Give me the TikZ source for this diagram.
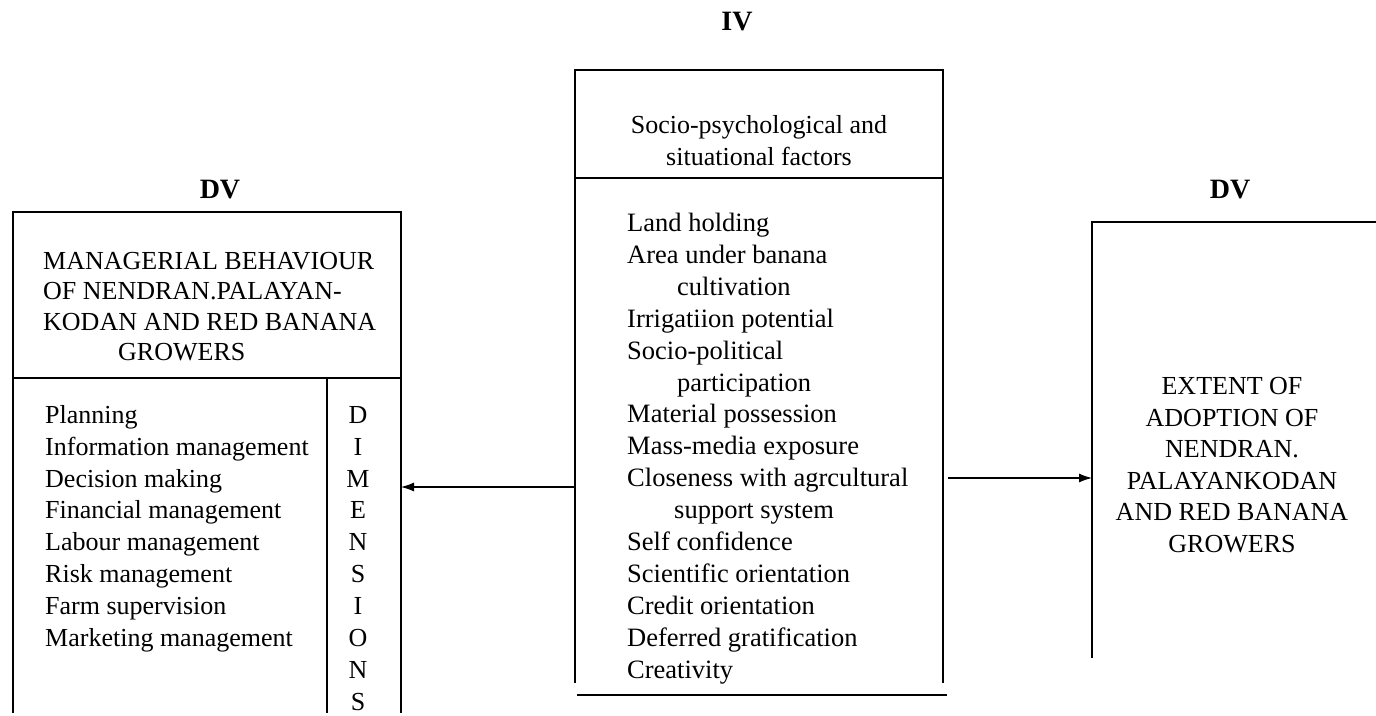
\documentclass[tikz,border=0pt]{standalone}
\usepackage{fontspec}
\setmainfont{Liberation Serif}
\usetikzlibrary{arrows.meta}
\begin{document}
\begin{tikzpicture}[x=1pt,y=-1pt,
  frame/.style={draw=none, inner sep=0pt, outer sep=0pt, anchor=north west},
  edge/.style={line width=1.1pt, black},
  arr/.style={line width=1.1pt, -{Latex[length=13pt,width=9pt]}},
  body/.style={inner sep=0pt, anchor=north west, align=left},
  caption/.style={inner sep=0pt, font=\bfseries\fontsize{28}{30}\selectfont}]
\useasboundingbox (0,0) rectangle (1376,715);

% box frames (open where the page cuts them)
\node[frame, minimum width=388pt, minimum height=501pt] (mb) at (13,212) {};
\node[frame, minimum width=368pt, minimum height=613pt] (iv) at (575,70) {};
\node[frame, minimum width=300pt, minimum height=436pt] (ad) at (1092,222) {};

\draw[edge] (mb.south west) -- (mb.north west) -- (mb.north east) -- (mb.south east);
\draw[edge] ([yshift=-166pt]mb.north west) -- ([yshift=-166pt]mb.north east);
\draw[edge] ([xshift=-74pt,yshift=-166pt]mb.north east) -- ([xshift=-74pt]mb.south east);

\draw[edge] (iv.south west) -- (iv.north west) -- (iv.north east) -- (iv.south east);
\draw[edge] ([yshift=-108pt]iv.north west) -- ([yshift=-108pt]iv.north east);
\draw[line width=1.8pt] ([xshift=2pt,yshift=-12pt]iv.south west) -- ([xshift=4pt,yshift=-12pt]iv.south east);

\draw[edge] (ad.south west) -- (ad.north west) -- (ad.north east);

% captions
\node[caption] (capiv) at (737,22) {IV};
\node[caption] (capl) at (220,190) {DV};
\node[caption] (capr) at (1230,190) {DV};

% left box
\node[body, font=\fontsize{26}{30.5}\selectfont] (mgrhead) at (43,252)
  {MANAGERIAL BEHAVIOUR\\OF NENDRAN.PALAYAN-\\KODAN AND RED BANANA\\\hspace*{75pt}GROWERS};
\node[body, font=\fontsize{26}{31.9}\selectfont] (mgrlist) at (45,405)
  {Planning\\Information management\\Decision making\\Financial management\\Labour management\\Risk management\\Farm supervision\\Marketing management};
\node[body, anchor=north, align=center, font=\fontsize{26}{31.9}\selectfont] (dimletters) at (358,406)
  {D\\I\\M\\E\\N\\S\\I\\O\\N\\S};

% middle box
\node[body, anchor=north, align=center, font=\fontsize{26}{32}\selectfont] (ivhead) at (759,115)
  {Socio-psychological and\\situational factors};
\node[body, font=\fontsize{26.5}{31.9}\selectfont] (ivlist) at (627,213)
  {Land holding\\Area under banana\\\hspace*{50pt}cultivation\\Irrigatiion potential\\Socio-political\\\hspace*{50pt}participation\\Material possession\\Mass-media exposure\\Closeness with agrcultural\\\hspace*{47pt}support system\\Self confidence\\Scientific orientation\\Credit orientation\\Deferred gratification\\Creativity};

% right box
\node[body, anchor=north, align=center, font=\fontsize{26}{31.6}\selectfont] (adopt) at (1232,377)
  {EXTENT OF\\ADOPTION OF\\NENDRAN.\\PALAYANKODAN\\AND RED BANANA\\GROWERS};

% connectors
\coordinate (yl) at (0,487);
\coordinate (yr) at (0,478);
\draw[arr] (iv.west |- yl) -- (mb.east |- yl);
\draw[arr] ([xshift=5pt]iv.east |- yr) -- (ad.west |- yr);
\end{tikzpicture}
\end{document}
